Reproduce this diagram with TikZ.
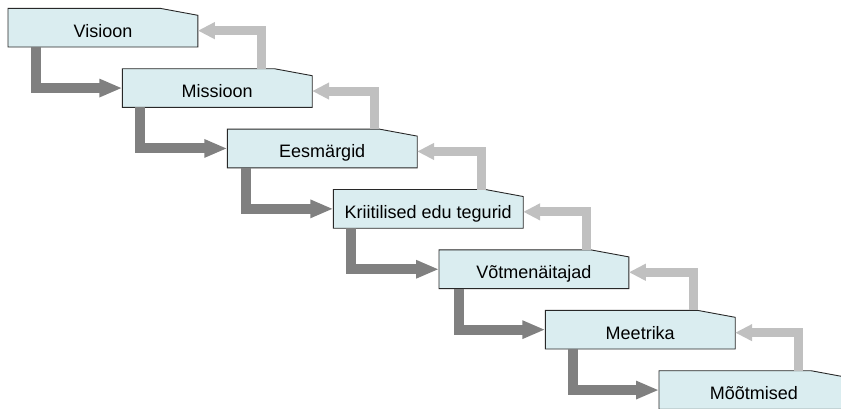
\documentclass[tikz,border=0pt]{standalone}
\usepackage{fontspec}
\setmainfont{Liberation Sans}
\usetikzlibrary{arrows.meta,backgrounds}
\definecolor{boxfill}{RGB}{218,237,240}
\definecolor{boxline}{RGB}{40,40,40}
\definecolor{downarrow}{RGB}{128,128,128}
\definecolor{uparrow}{RGB}{192,192,192}

\begin{document}
\begin{tikzpicture}[x=1pt,y=-1pt,
  stepbox/.style={rectangle, inner sep=0pt, anchor=north west,
    minimum width=189.5pt, text height=28.5pt, text depth=9.8pt,
    font=\fontsize{18}{21}\selectfont},
  outline/.style={fill=boxfill, draw=boxline, line width=0.9pt, line join=miter},
  downflow/.style={draw=downarrow, line width=10pt, line join=miter,
    -{Triangle[length=23pt,width=17pt]}},
  upflow/.style={draw=uparrow, line width=9pt, line join=miter,
    -{Triangle[length=17pt,width=16pt]}}]
\clip (0,0) rectangle (841,408);

% the seven steps of the staircase
\node[stepbox] (b1) at (8,8.3)     {Visioon};
\node[stepbox] (b2) at (122.3,68.7) {Missioon};
\node[stepbox] (b3) at (227.3,129.1) {Eesmärgid};
\node[stepbox] (b4) at (333.3,189.5) {Kriitilised edu tegurid};
\node[stepbox] (b5) at (439,249.9)  {Võtmenäitajad};
\node[stepbox] (b6) at (545.3,310.3) {Meetrika};
\node[stepbox] (b7) at (659,370.7)  {Mõõtmised};

% box outlines with the clipped upper right corner
\begin{scope}[on background layer]
\foreach \n in {b1,b2,b3,b4,b5,b6,b7}
  \path[outline] (\n.south west) -- (\n.north west) -- ([xshift=152pt]\n.north west)
    -- ([yshift=-7pt]\n.north east) -- (\n.south east) -- cycle;
\end{scope}

% downward flow
\draw[downflow] ([xshift=28pt]b1.south west) |- (b2.west);
\draw[downflow] ([xshift=18pt]b2.south west) |- (b3.west);
\draw[downflow] ([xshift=19pt]b3.south west) |- (b4.west);
\draw[downflow] ([xshift=17.4pt]b4.south west) |- (b5.west);
\draw[downflow] ([xshift=20.3pt]b5.south west) |- (b6.west);
\draw[downflow] ([xshift=27.7pt]b6.south west) |- (b7.west);

% upward feedback
\draw[upflow] ([xshift=139.2pt]b2.north west) |- ([yshift=-3pt]b1.east);
\draw[upflow] ([xshift=147.5pt]b3.north west) |- ([yshift=-3pt]b2.east);
\draw[upflow] ([xshift=148.2pt]b4.north west) |- ([yshift=-3pt]b3.east);
\draw[upflow] ([xshift=147.7pt]b5.north west) |- ([yshift=-3pt]b4.east);
\draw[upflow] ([xshift=147.7pt]b6.north west) |- ([yshift=-3pt]b5.east);
\draw[upflow] ([xshift=139.5pt]b7.north west) |- ([yshift=-3pt]b6.east);
\end{tikzpicture}
\end{document}
